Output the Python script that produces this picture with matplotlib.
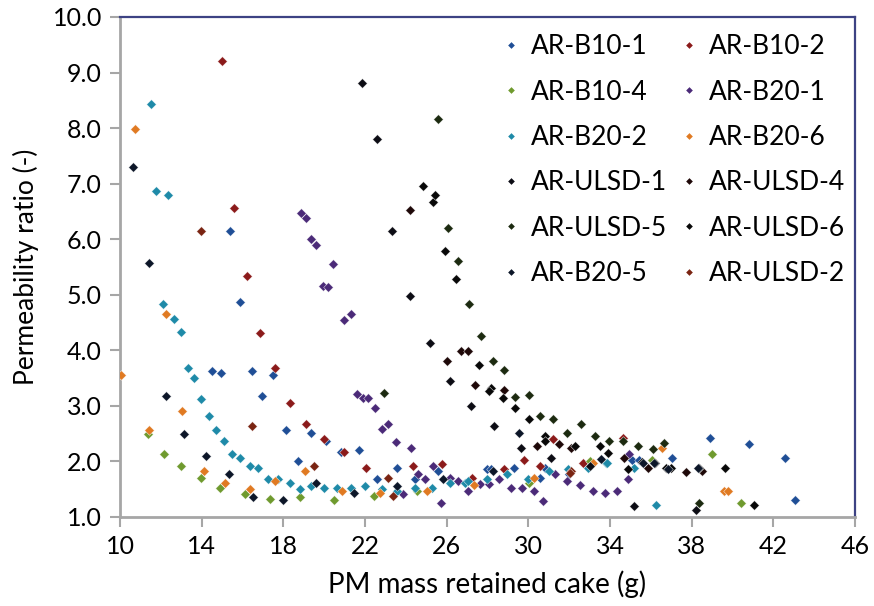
import matplotlib
matplotlib.use("Agg")
import matplotlib.pyplot as plt
from matplotlib.lines import Line2D

plt.rcParams['font.family'] = ['Lato', 'DejaVu Sans']

# ── Data ──────────────────────────────────────────────────────────────────────
b10_1_x = [15.4, 15.89, 14.52, 14.93, 16.46, 17.49, 16.95, 18.14, 19.35, 20.09, 20.82, 21.7,
           18.72, 22.6, 23.55, 24.45, 25.59, 27.99, 28.15, 29.29, 30.59, 30.84, 32.0, 35.1,
           35.4, 37.06, 38.91, 40.79, 42.55, 43.04]
b10_1_y = [6.15, 4.87, 3.62, 3.59, 3.62, 3.56, 3.18, 2.56, 2.52, 2.37, 2.17, 2.2,
           2.01, 1.68, 1.89, 1.68, 1.83, 1.86, 1.86, 1.89, 1.71, 1.89, 1.77, 2.02,
           2.02, 2.07, 2.43, 2.31, 2.07, 1.31]

b10_2_x = [15.01, 15.57, 16.2, 16.87, 17.57, 18.31, 19.09, 20.0, 20.98, 22.03, 24.36, 25.75,
           27.22, 28.82, 29.78, 30.59, 31.23, 32.69, 34.65]
b10_2_y = [9.2, 6.56, 5.34, 4.31, 3.68, 3.06, 2.67, 2.40, 2.17, 1.89, 1.92, 1.95,
           1.71, 1.86, 2.02, 1.92, 2.40, 1.98, 2.43]

b10_4_x = [11.35, 12.17, 12.99, 13.95, 14.91, 16.12, 17.35, 18.8, 20.5, 22.42, 24.53, 30.04,
           33.0, 36.08, 38.99, 40.44]
b10_4_y = [2.5, 2.13, 1.92, 1.71, 1.53, 1.41, 1.33, 1.36, 1.3, 1.38, 1.47, 1.62,
           2.0, 2.03, 2.13, 1.25]

b20_1_x = [18.86, 19.12, 19.35, 19.61, 20.42, 19.93, 20.19, 20.98, 21.31, 21.6, 21.88, 22.17,
           22.5, 22.83, 23.15, 23.53, 24.23, 24.61, 24.94, 23.87, 25.34, 25.72, 26.16, 26.56,
           27.06, 27.63, 28.08, 28.57, 29.15, 29.71, 30.27, 30.73, 31.33, 31.87, 32.53, 33.18,
           33.75, 34.32, 34.86, 34.94]
b20_1_y = [6.48, 6.38, 6.0, 5.9, 5.55, 5.16, 5.14, 4.54, 4.65, 3.21, 3.15, 3.15,
           2.97, 2.58, 2.67, 2.35, 2.25, 1.77, 1.68, 1.41, 1.92, 1.25, 1.71, 1.65,
           1.47, 1.59, 1.59, 1.68, 1.53, 1.53, 1.46, 1.28, 1.77, 1.64, 1.58, 1.46,
           1.43, 1.46, 1.68, 2.13]

b20_2_x = [11.52, 11.76, 12.33, 12.09, 12.66, 12.99, 13.31, 13.64, 13.95, 14.36, 14.68, 15.07,
           15.48, 15.89, 16.37, 16.78, 17.27, 17.74, 18.31, 18.8, 19.35, 20.0, 20.64, 21.3,
           22.01, 22.85, 23.55, 24.45, 25.26, 26.16, 26.9, 27.06, 27.99, 28.97, 29.96, 31.0,
           31.95, 32.93, 33.78, 33.86, 35.19, 36.25]
b20_2_y = [8.43, 6.86, 6.8, 4.84, 4.57, 4.33, 3.68, 3.5, 3.12, 2.82, 2.56, 2.37,
           2.13, 2.07, 1.92, 1.89, 1.68, 1.68, 1.62, 1.5, 1.56, 1.53, 1.53, 1.53,
           1.56, 1.5, 1.47, 1.53, 1.53, 1.62, 1.62, 1.65, 1.68, 1.77, 1.68, 1.83,
           1.86, 1.89, 1.98, 1.98, 1.89, 1.22]

b20_6_x = [10.07, 10.72, 12.25, 13.06, 11.43, 14.11, 15.15, 16.37, 17.57, 19.04, 20.88, 22.75,
           25.02, 27.35, 30.27, 33.18, 36.57, 39.6, 39.8]
b20_6_y = [3.56, 7.98, 4.66, 2.91, 2.56, 1.83, 1.62, 1.5, 1.65, 1.83, 1.47, 1.44,
           1.47, 1.58, 1.71, 1.98, 2.25, 1.46, 1.46]

ulsd_1_x = [21.87, 22.59, 23.32, 24.22, 25.18, 26.14, 27.19, 28.33, 29.62, 31.13, 33.02, 35.19, 38.19]
ulsd_1_y = [8.82, 7.81, 6.15, 4.98, 4.13, 3.44, 3.0, 2.64, 2.25, 2.07, 1.92, 1.19, 1.13]

ulsd_4_x = [24.22, 26.0, 26.7, 27.06, 27.37, 28.82, 30.44, 31.5, 32.08, 34.7, 35.85, 37.72, 38.52]
ulsd_4_y = [6.53, 3.8, 3.98, 3.98, 3.38, 3.29, 2.28, 2.31, 2.25, 2.07, 1.89, 1.81, 1.83]

ulsd_5_x = [22.91, 25.59, 26.08, 26.56, 27.11, 27.7, 28.25, 28.82, 29.37, 30.02, 30.59, 31.23,
            31.88, 32.58, 33.27, 33.96, 34.65, 35.35, 36.12, 36.64, 38.37]
ulsd_5_y = [3.24, 8.16, 6.2, 5.61, 4.83, 4.25, 3.8, 3.65, 3.16, 3.2, 2.82, 2.76,
            2.52, 2.67, 2.46, 2.37, 2.37, 2.28, 2.23, 2.34, 1.25]

ulsd_6_x = [24.85, 25.33, 25.43, 25.92, 26.47, 27.6, 28.17, 28.08, 28.74, 29.37, 30.02, 30.84,
            30.84, 32.28, 33.51, 33.92, 34.86, 35.55, 36.18, 36.74, 36.98, 38.35, 39.64, 41.03]
ulsd_6_y = [6.95, 6.67, 6.8, 5.79, 5.28, 3.74, 3.32, 3.26, 3.14, 2.97, 2.76, 2.46,
            2.37, 2.28, 2.28, 2.16, 1.86, 1.99, 1.98, 1.89, 1.89, 1.89, 1.89, 1.22]

b20_5_x = [10.62, 11.44, 12.25, 13.15, 14.19, 15.32, 16.53, 17.98, 19.6, 21.46, 23.55, 25.8,
           28.28, 29.54, 33.54, 35.6, 36.16, 36.84, 38.31]
b20_5_y = [7.3, 5.58, 3.18, 2.5, 2.1, 1.77, 1.36, 1.3, 1.62, 1.44, 1.56, 1.68,
           1.83, 2.52, 2.04, 1.98, 1.98, 1.86, 1.89]

ulsd_2_x = [13.95, 16.46, 19.51, 23.15, 23.38, 32.11, 32.04]
ulsd_2_y = [6.15, 2.64, 1.92, 1.71, 1.38, 1.83, 1.80]

series = [
    ('AR-B10-1', b10_1_x, b10_1_y, '#1f4e96'),
    ('AR-B10-2', b10_2_x, b10_2_y, '#8b1a1a'),
    ('AR-B10-4', b10_4_x, b10_4_y, '#6f9a2e'),
    ('AR-B20-1', b20_1_x, b20_1_y, '#4b2a78'),
    ('AR-B20-2', b20_2_x, b20_2_y, '#1e8aa8'),
    ('AR-B20-6', b20_6_x, b20_6_y, '#e07a22'),
    ('AR-ULSD-1', ulsd_1_x, ulsd_1_y, '#0c0c14'),
    ('AR-ULSD-4', ulsd_4_x, ulsd_4_y, '#1e0808'),
    ('AR-ULSD-5', ulsd_5_x, ulsd_5_y, '#1c2a10'),
    ('AR-ULSD-6', ulsd_6_x, ulsd_6_y, '#080808'),
    ('AR-B20-5', b20_5_x, b20_5_y, '#0c1628'),
    ('AR-ULSD-2', ulsd_2_x, ulsd_2_y, '#7a2412'),
]

# ── Figure ────────────────────────────────────────────────────────────────────
fig = plt.figure(figsize=(8.74, 6.06), dpi=100)
ax = fig.add_axes([120 / 874, 1 - 517 / 606, 735 / 874, 500 / 606])

handles = {}
for name, xs, ys, col in series:
    ax.scatter(xs, ys, s=24, marker='D', color=col, edgecolors='white',
               linewidths=0.3, zorder=3)
    handles[name] = Line2D([], [], ls='none', marker='D', markersize=3.4,
                           color=col, markeredgewidth=0)

ax.set_xlim(10, 46)
ax.set_ylim(1, 10)
ax.set_xticks(range(10, 47, 4))
ax.set_yticks(range(1, 11))
ax.set_yticklabels([f'{v:.1f}' for v in range(1, 11)])

# Excel-style frame: grey axes, navy plot-area border
for side in ('left', 'bottom'):
    ax.spines[side].set_color('#a6a6a6')
    ax.spines[side].set_linewidth(2)
for side in ('top', 'right'):
    ax.spines[side].set_color('#3d4283')
    ax.spines[side].set_linewidth(1.6)
ax.tick_params(direction='out', length=7, width=1.5, color='#a6a6a6',
               labelsize=18, pad=6)

ax.set_xlabel('PM mass retained cake (g)', fontsize=20, labelpad=9)
ax.set_ylabel('Permeability ratio (-)', fontsize=19, labelpad=10)

# legend: Excel fills row by row, matplotlib column by column
order = ['AR-B10-1', 'AR-B10-4', 'AR-B20-2', 'AR-ULSD-1', 'AR-ULSD-5', 'AR-B20-5',
         'AR-B10-2', 'AR-B20-1', 'AR-B20-6', 'AR-ULSD-4', 'AR-ULSD-6', 'AR-ULSD-2']
ax.legend([handles[n] for n in order], order, ncol=2, loc='upper left',
          bbox_to_anchor=(0.507, 0.9866), frameon=False, fontsize=19,
          handlelength=0.6, handletextpad=0.45, columnspacing=0.55,
          labelspacing=0.77, borderaxespad=0)

fig.savefig('out.png', dpi=100, facecolor='white')
